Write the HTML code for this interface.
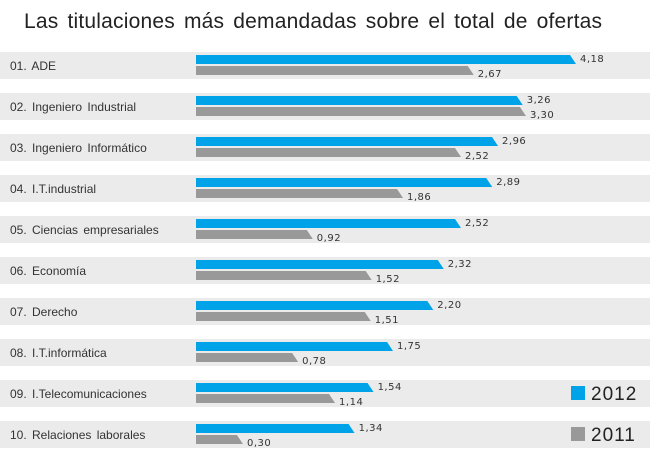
<!DOCTYPE html>
<html><head><meta charset="utf-8"><style>
body{margin:0;background:#fff;width:650px;height:466px;overflow:hidden;font-family:"Liberation Sans",sans-serif}
#t{position:absolute;left:24px;top:10px;font-size:21px;color:#222;word-spacing:3px;letter-spacing:0.2px}
</style></head><body>
<div id="t">Las titulaciones más demandadas sobre el total de ofertas</div>
<svg id="c" width="650" height="466" style="position:absolute;left:0;top:0"></svg>
<script>
const categories=["01. ADE","02. Ingeniero Industrial","03. Ingeniero Informático","04. I.T.industrial","05. Ciencias empresariales","06. Economía","07. Derecho","08. I.T.informática","09. I.Telecomunicaciones","10. Relaciones laborales"];
const values2012=[4.18,3.26,2.96,2.89,2.52,2.32,2.20,1.75,1.54,1.34];
const values2011=[2.67,3.30,2.52,1.86,0.92,1.52,1.51,0.78,1.14,0.30];
const legendLabels=["2012","2011"];
const svg=document.getElementById('c');const NS='http://www.w3.org/2000/svg';
function mk(t,a){const e=document.createElementNS(NS,t);for(const k in a)e.setAttribute(k,a[k]);svg.appendChild(e);return e;}
const x0=196;
function xw(v){return Math.min(125*Math.pow(v,0.813),380);}
function fmt(v){return v.toFixed(2).replace('.',',');}
categories.forEach((c,i)=>{
  const y=52+i*41;
  const band=mk('rect',{x:0,y:y,width:650,height:27,fill:'#ebebeb'});
  
  
  const lb=mk('text',{x:10,y:y+18,'font-size':12,fill:'#333','word-spacing':2});lb.textContent=c;
  
  
  [[values2012[i],'#00a3e8',3],[values2011[i],'#999',14]].forEach(([v,col,dy],j)=>{
    const w=xw(v);const yt=y+dy;
    const p=mk('polygon',{points:`${x0},${yt} ${x0+w-6},${yt} ${x0+w},${yt+9} ${x0},${yt+9}`,fill:col});
    
    
    const t=mk('text',{x:x0+w+4,y:yt+(j?11:7),'font-size':10,fill:'#333','font-family':'DejaVu Sans','letter-spacing':0.5});t.textContent=fmt(v);
    
    
  });
});
legendLabels.forEach((l,i)=>{
  const y=386+i*41;
  const r=mk('rect',{x:571,y:y,width:14,height:14,fill:i?'#999':'#00a3e8'});
  
  
  const t=mk('text',{x:591,y:y+14,'font-size':19,fill:'#222','letter-spacing':1});t.textContent=l;
  
  
});
</script>
</body></html>
